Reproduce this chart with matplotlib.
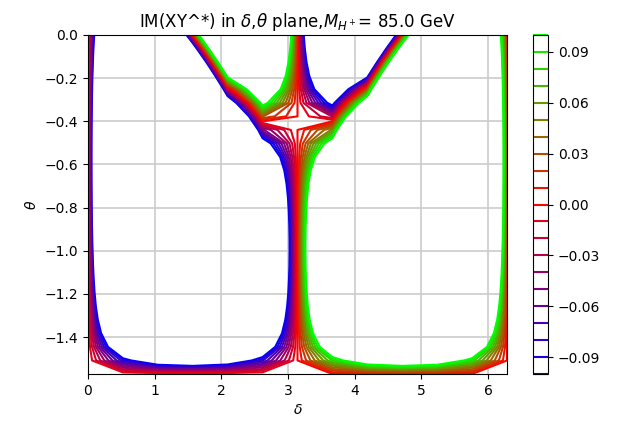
import numpy as np
import matplotlib.pyplot as plt

# scan settings
m_charged = 85.0          # GeV
n_delta = 13
n_theta = 26
coupling_ratio = 2.05
coupling_scale = 1.3
levels = np.linspace(-0.1, 0.1, 21)

delta = np.linspace(0, 2 * np.pi, n_delta)
theta = np.linspace(-np.pi / 2, 0, n_theta)
D, T = np.meshgrid(delta, theta)

# imaginary part of X Y^* on the (delta, theta) grid
im_xy = coupling_scale * np.sin(D) * np.cos(T) * (
    coupling_ratio * np.sin(T) - np.cos(T) * np.cos(D))
# drop round-off left by sin(pi), cos(-pi/2) ...
im_xy[np.abs(im_xy) < 1e-12] = 0.0

fig = plt.figure(figsize=(6.28, 4.26), dpi=100)
ax = fig.add_axes([88 / 628, 52 / 426, 419 / 628, 339 / 426])
cax = fig.add_axes([533 / 628, 52 / 426, 15 / 628, 339 / 426])

ax.grid(color='#cccccc', linewidth=1.2)
cs = ax.contour(D, T, im_xy, levels=levels, cmap='brg')
fig.colorbar(cs, cax=cax)

ax.set_title(r'IM(XY^*) in $\delta$,$\theta$ plane,$M_{H^+}$= %.1f GeV' % m_charged)
ax.set_xlabel(r'$\delta$')
ax.set_ylabel(r'$\theta$')

fig.savefig('out.png', dpi=100)
